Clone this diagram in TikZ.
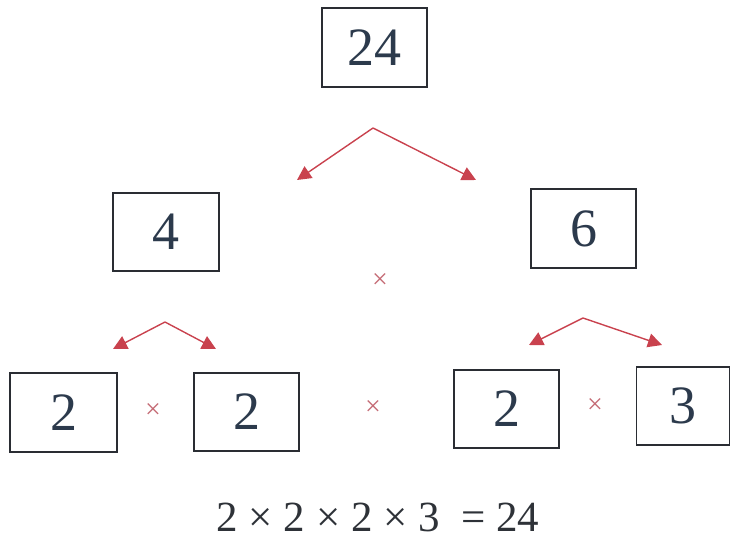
\documentclass[tikz,border=0pt]{standalone}
\usepackage{fontspec}
\setmainfont{Liberation Serif}
\usetikzlibrary{arrows.meta}
\definecolor{boxline}{HTML}{2A2D33}
\definecolor{digit}{HTML}{2C3A4C}
\definecolor{arrowred}{HTML}{C9424E}
\definecolor{timesred}{HTML}{C46A74}
\definecolor{eqtext}{HTML}{2E3238}
\tikzset{
  numbox/.style={draw=boxline, line width=1.8pt, inner sep=0pt, text=digit,
    font=\fontsize{54}{54}\selectfont, anchor=center},
  branch/.style={draw=arrowred, line width=1.4pt,
    -{Triangle[length=14pt,width=14pt]}, fill=none},
  timesmark/.style={text=timesred, font=\fontsize{28}{28}\selectfont, inner sep=0pt},
}
\begin{document}
\begin{tikzpicture}[x=1pt,y=-1pt]
\useasboundingbox (0,0) rectangle (733,540);
% boxes
\node[numbox, minimum width=105pt, minimum height=79pt] (n24) at (374.5,47.5) {24};
\node[numbox, minimum width=106pt, minimum height=78pt] (n4) at (166,232) {4};
\node[numbox, minimum width=105pt, minimum height=79pt] (n6) at (583.5,228.5) {6};
\node[numbox, minimum width=107pt, minimum height=79pt] (a2) at (63.5,412.5) {2};
\node[numbox, minimum width=105pt, minimum height=78pt] (b2) at (246.5,412) {2};
\node[numbox, minimum width=105pt, minimum height=78pt] (c2) at (506.5,409) {2};
\node[numbox, minimum width=93pt, minimum height=78pt] (d3) at (683,406) {3};
% arrow apexes and tips
\coordinate (t0) at (373,128);
\coordinate (t0l) at (297,180);
\coordinate (t0r) at (476,180);
\coordinate (t1) at (165,322);
\coordinate (t1l) at (113,349);
\coordinate (t1r) at (216,349);
\coordinate (t2) at (583,318);
\coordinate (t2l) at (529,345);
\coordinate (t2r) at (662,345);
\draw[branch] (t0) -- (t0l);
\draw[branch] (t0) -- (t0r);
\draw[branch] (t1) -- (t1l);
\draw[branch] (t1) -- (t1r);
\draw[branch] (t2) -- (t2l);
\draw[branch] (t2) -- (t2r);
% times marks
\node[timesmark] (x0) at (380,281) {×};
\node[timesmark] (x1) at (153,411) {×};
\node[timesmark] (x2) at (373,408) {×};
\node[timesmark] (x3) at (595,406) {×};
% equation
\node[text=eqtext, font=\fontsize{43}{43}\selectfont, inner sep=0pt] (eq) at (378,517) {2 × 2 × 2 × 3 \ = 24};
\end{tikzpicture}
\end{document}
